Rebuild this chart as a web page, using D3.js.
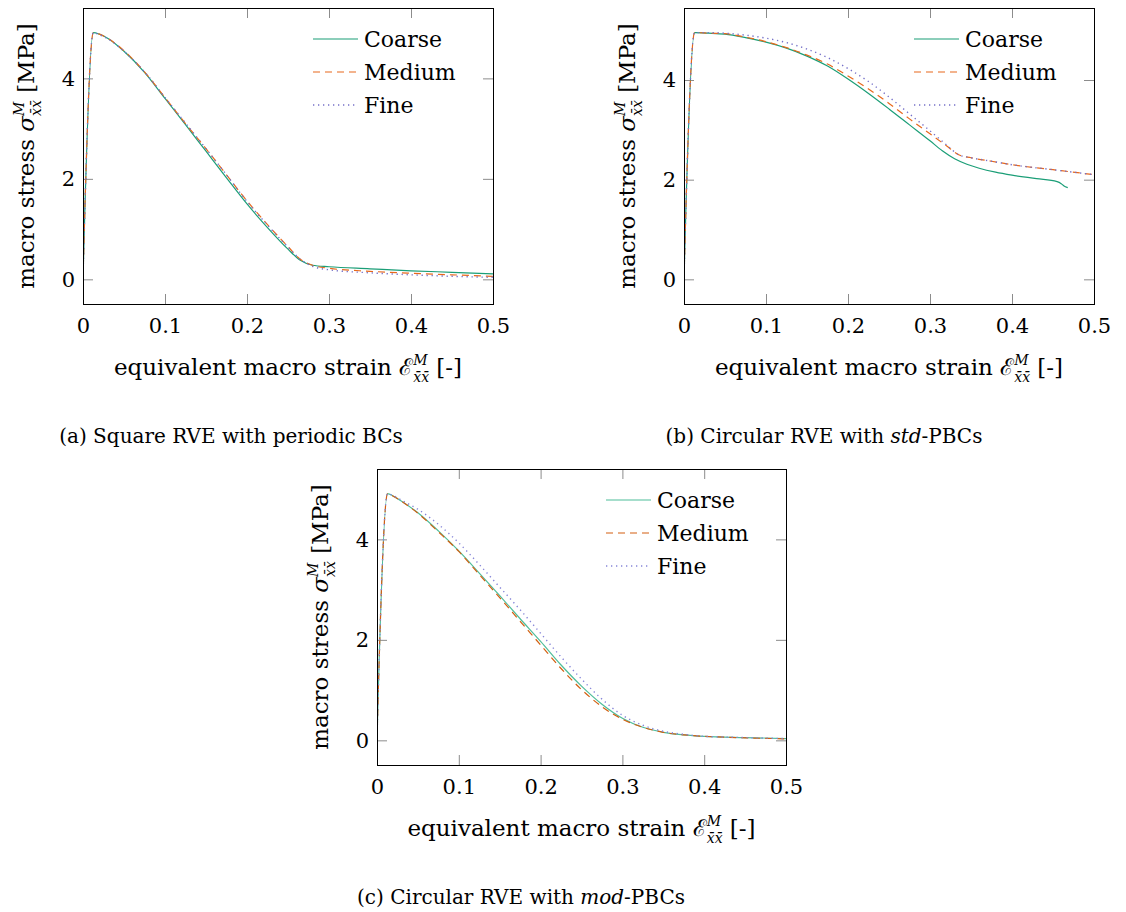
<!DOCTYPE html>
<html>
<head>
<meta charset="utf-8">
<script src="https://cdn.jsdelivr.net/npm/d3@7"></script>
<style>
  body { margin: 0; background: #fff; }
  svg text { font-family: "DejaVu Serif", serif; fill: #000; white-space: pre; }
</style>
</head>
<body>
<svg id="fig" width="1126" height="912"></svg>
<script>
// legend names and ticks
const seriesNames = ["Coarse", "Medium", "Fine"];
const xTicks = [0, 0.1, 0.2, 0.3, 0.4, 0.5];
const yTicks = [0, 2, 4];

// (a) square RVE, periodic BCs  -- [strain, stress]
const aCoarse = [[0,0],[0.0012,0.75],[0.0126,4.91],[0.02,4.88],[0.03,4.8],[0.05,4.54],[0.075,4.12],[0.1,3.6],[0.125,3.08],[0.15,2.55],[0.175,2.02],[0.2,1.5],[0.225,1.03],[0.25,0.6],[0.265,0.38],[0.28,0.28],[0.3,0.25],[0.35,0.21],[0.4,0.17],[0.45,0.14],[0.5,0.11]];
const aMedium = [[0,0],[0.0012,0.75],[0.0126,4.91],[0.02,4.88],[0.03,4.8],[0.05,4.55],[0.075,4.13],[0.1,3.62],[0.125,3.1],[0.15,2.6],[0.175,2.08],[0.2,1.56],[0.225,1.09],[0.25,0.65],[0.265,0.4],[0.28,0.28],[0.3,0.22],[0.35,0.16],[0.4,0.12],[0.45,0.09],[0.5,0.06]];
const aFine   = [[0,0],[0.0012,0.75],[0.0126,4.91],[0.02,4.87],[0.03,4.79],[0.05,4.54],[0.075,4.13],[0.1,3.62],[0.125,3.11],[0.15,2.6],[0.175,2.08],[0.2,1.55],[0.225,1.08],[0.25,0.64],[0.265,0.4],[0.28,0.26],[0.3,0.19],[0.35,0.13],[0.4,0.09],[0.45,0.06],[0.5,0.04]];

// (b) circular RVE, std-PBCs
const bCoarse = [[0,0],[0.0012,0.75],[0.013,4.95],[0.03,4.94],[0.05,4.92],[0.075,4.85],[0.1,4.76],[0.125,4.64],[0.15,4.48],[0.175,4.28],[0.2,4.02],[0.225,3.73],[0.25,3.42],[0.275,3.1],[0.3,2.78],[0.315,2.58],[0.33,2.42],[0.345,2.31],[0.36,2.23],[0.38,2.15],[0.4,2.09],[0.43,2.02],[0.455,1.96],[0.46,1.92],[0.463,1.88],[0.468,1.84]];
const bMedium = [[0,0],[0.0012,0.75],[0.013,4.95],[0.03,4.94],[0.05,4.93],[0.075,4.86],[0.1,4.77],[0.125,4.65],[0.15,4.5],[0.175,4.32],[0.2,4.08],[0.225,3.82],[0.25,3.53],[0.275,3.22],[0.3,2.92],[0.32,2.68],[0.335,2.5],[0.35,2.44],[0.375,2.37],[0.4,2.3],[0.45,2.2],[0.5,2.1]];
const bFine   = [[0,0],[0.0012,0.75],[0.013,4.95],[0.03,4.95],[0.05,4.94],[0.075,4.9],[0.1,4.84],[0.125,4.75],[0.15,4.62],[0.175,4.45],[0.2,4.23],[0.225,3.97],[0.25,3.66],[0.275,3.32],[0.3,2.98],[0.32,2.7],[0.335,2.5],[0.35,2.44],[0.375,2.37],[0.4,2.3],[0.45,2.2],[0.5,2.1]];

// (c) circular RVE, mod-PBCs
const cCoarse = [[0,0],[0.0012,0.75],[0.013,4.91],[0.02,4.86],[0.03,4.76],[0.05,4.53],[0.075,4.17],[0.1,3.77],[0.125,3.33],[0.15,2.88],[0.175,2.42],[0.2,1.97],[0.225,1.5],[0.25,1.08],[0.275,0.72],[0.3,0.44],[0.325,0.26],[0.35,0.16],[0.375,0.11],[0.4,0.08],[0.45,0.055],[0.5,0.035]];
const cMedium = [[0,0],[0.0012,0.75],[0.013,4.91],[0.02,4.86],[0.03,4.76],[0.05,4.52],[0.075,4.15],[0.1,3.76],[0.125,3.3],[0.15,2.84],[0.175,2.37],[0.2,1.9],[0.225,1.43],[0.25,1.01],[0.275,0.67],[0.3,0.42],[0.325,0.26],[0.35,0.16],[0.375,0.11],[0.4,0.08],[0.45,0.05],[0.5,0.03]];
const cFine   = [[0,0],[0.0012,0.75],[0.013,4.91],[0.02,4.87],[0.03,4.78],[0.05,4.6],[0.075,4.3],[0.1,3.93],[0.125,3.5],[0.15,3.05],[0.175,2.6],[0.2,2.13],[0.225,1.66],[0.25,1.22],[0.275,0.82],[0.3,0.5],[0.325,0.3],[0.35,0.18],[0.375,0.12],[0.4,0.08],[0.45,0.055],[0.5,0.035]];

const svg = d3.select("#fig");

const panels = [
  { id: "a", left: 83, top: 8, width: 410, height: 296,
    series: [aCoarse, aMedium, aFine],
    colors: ["#1b9e77", "#e8691c", "#7570c8"],
    capX: 231, caption: [["(a) Square RVE with periodic BCs", false]] },
  { id: "b", left: 684, top: 8, width: 410, height: 296,
    series: [bCoarse, bMedium, bFine],
    colors: ["#1b9e77", "#e8691c", "#7570c8"],
    capX: 824, caption: [["(b) Circular RVE with ", false], ["std", true], ["-PBCs", false]] },
  { id: "c", left: 377, top: 469, width: 409, height: 296,
    series: [cCoarse, cMedium, cFine],
    colors: ["#4fbd9a", "#d35f10", "#8585d8"],
    capX: 521, caption: [["(c) Circular RVE with ", false], ["mod", true], ["-PBCs", false]] }
];

const dashes = [null, "7,5", "1.3,3.7"];
const widths = [1.2, 1.2, 1.4];

// symbol with stacked super/subscript
function addScript(t, base, baseItalic) {
  t.append("tspan").attr("font-style", baseItalic ? "italic" : null).text(base);
  const sup = t.append("tspan").attr("font-size", 14).attr("font-style", "italic").attr("dy", -10).text("M");
  const w = sup.node().getComputedTextLength();
  t.append("tspan").attr("font-size", 14).attr("font-style", "italic")
    .attr("dx", -w).attr("dy", 17).text("x\u0304x\u0304");
  return t;
}

panels.forEach(p => {
  const x = d3.scaleLinear().domain([0, 0.5]).range([0, p.width]);
  const all = p.series.flat().map(d => d[1]);
  const lo = d3.min(all), hi = d3.max(all), pad = 0.1 * (hi - lo);
  const y = d3.scaleLinear().domain([lo - pad, hi + pad]).range([p.height, 0]);

  const g = svg.append("g").attr("transform", `translate(${p.left},${p.top})`);

  svg.append("clipPath").attr("id", "clip-" + p.id)
    .append("rect").attr("width", p.width).attr("height", p.height);

  // axes: ticks inside, grey
  const fmt = d => String(d);
  const bottom = g.append("g").attr("transform", `translate(0,${p.height})`)
    .call(d3.axisBottom(x).tickValues(xTicks).tickFormat(fmt).tickSize(-10).tickPadding(14));
  const left = g.append("g")
    .call(d3.axisLeft(y).tickValues(yTicks).tickFormat(fmt).tickSize(-10).tickPadding(8));
  const top = g.append("g")
    .call(d3.axisTop(x).tickValues(xTicks).tickSize(-10).tickFormat(""));
  const right = g.append("g").attr("transform", `translate(${p.width},0)`)
    .call(d3.axisRight(y).tickValues(yTicks).tickSize(-10).tickFormat(""));
  [bottom, left, top, right].forEach(a => {
    a.select(".domain").remove();
    a.selectAll(".tick line").attr("stroke", "#8c8c8c");
    a.selectAll("text").attr("font-size", 21).attr("font-family", "DejaVu Serif");
  });

  // curves
  const line = d3.line().x(d => x(d[0])).y(d => y(d[1])).curve(d3.curveMonotoneX);
  const lines = g.append("g").attr("clip-path", `url(#clip-${p.id})`);
  p.series.forEach((s, i) => {
    lines.append("path").datum(s)
      .attr("d", line)
      .attr("fill", "none")
      .attr("stroke", p.colors[i])
      .attr("stroke-width", widths[i])
      .attr("stroke-dasharray", dashes[i]);
  });

  g.append("rect").attr("x", 0.5).attr("y", 0.5)
    .attr("width", p.width).attr("height", p.height)
    .attr("fill", "none").attr("stroke", "#000").attr("stroke-width", 1);

  // legend, no box
  const lg = g.append("g").attr("transform", `translate(${p.width - 180},0)`);
  seriesNames.forEach((n, i) => {
    const ly = 31 + i * 33;
    lg.append("line").attr("x1", 0).attr("x2", 45).attr("y1", ly).attr("y2", ly)
      .attr("stroke", p.colors[i]).attr("stroke-width", widths[i])
      .attr("stroke-dasharray", dashes[i]);
    lg.append("text").attr("x", 51).attr("y", ly).attr("dy", "0.35em")
      .attr("font-size", 22).text(n);
  });

  // y label
  const yl = g.append("text")
    .attr("transform", `translate(-49,${p.height / 2}) rotate(-90)`)
    .attr("text-anchor", "middle").attr("font-size", 23);
  yl.append("tspan").text("macro stress ");
  addScript(yl, "\u03c3", true);
  yl.append("tspan").attr("dy", -7).text(" [MPa]");

  // x label
  const xl = g.append("text")
    .attr("x", p.width / 2).attr("y", p.height + 71)
    .attr("text-anchor", "middle").attr("font-size", 23);
  xl.append("tspan").text("equivalent macro strain ");
  addScript(xl, "\u2130", false);
  xl.append("tspan").attr("dy", -7).text(" [-]");

  // caption
  const cap = svg.append("text")
    .attr("x", p.capX).attr("y", p.top + p.height + 139)
    .attr("text-anchor", "middle").attr("font-size", 20);
  p.caption.forEach(([s, it]) => {
    cap.append("tspan").attr("font-style", it ? "italic" : null).text(s);
  });
});
</script>
</body>
</html>
